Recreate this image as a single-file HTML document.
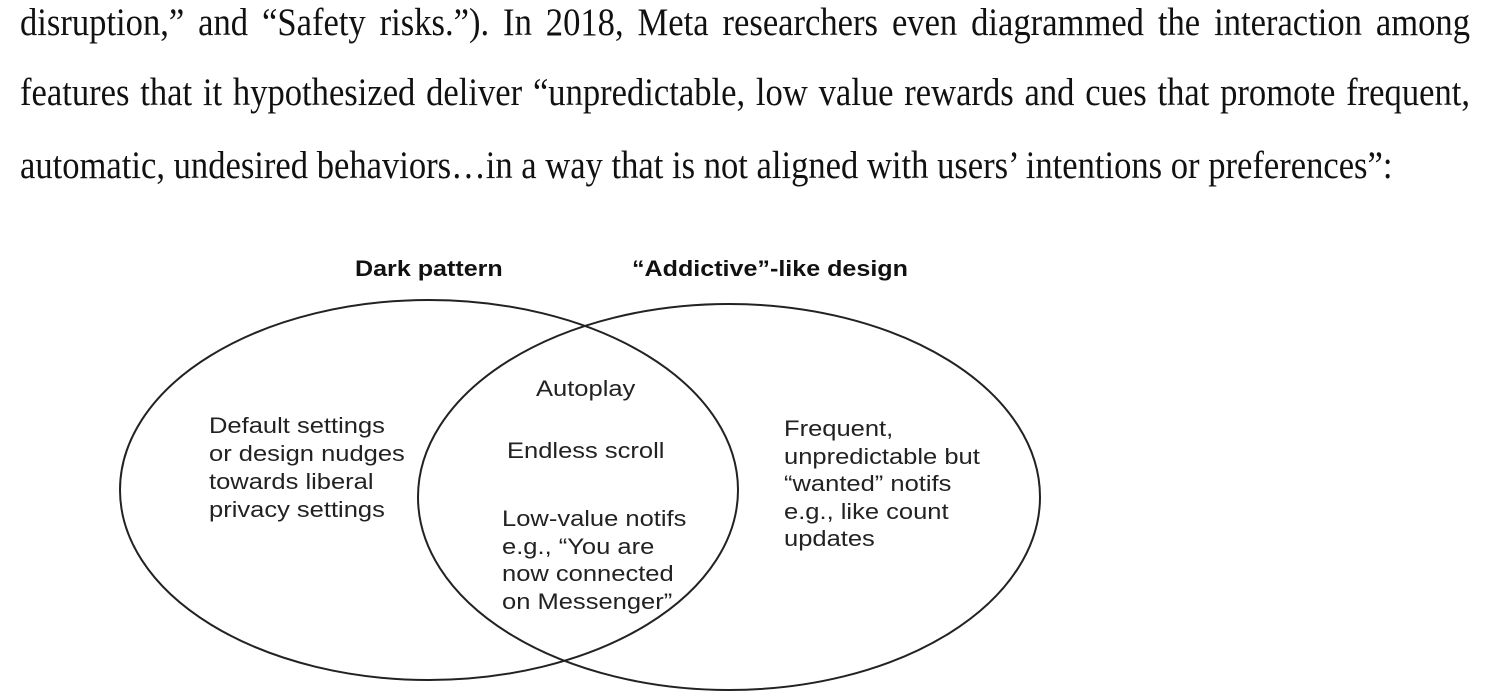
<!DOCTYPE html>
<html><head><style>
body{margin:0;width:1490px;height:698px;background:#fff;overflow:hidden;position:relative;}
.p{position:absolute;left:20px;width:1450px;font-family:"Liberation Serif",serif;font-size:34.6px;line-height:34px;color:#111;white-space:nowrap;transform:scaleY(1.12);transform-origin:0 28px;}
.j{text-align:justify;text-align-last:justify;}
.t{position:absolute;font-family:"Liberation Sans",sans-serif;font-size:22px;color:#222;line-height:28px;white-space:nowrap;transform:scaleX(1.16);transform-origin:0 0;}
.b{font-weight:bold;font-size:22px;color:#111;transform:scaleX(1.14);}
</style></head><body>
<div class="p j" style="top:7px">disruption,” and “Safety risks.”). In 2018, Meta researchers even diagrammed the interaction among</div>
<div class="p j" style="top:77px">features that it hypothesized deliver “unpredictable, low value rewards and cues that promote frequent,</div>
<div class="p" style="top:150px">automatic, undesired behaviors…in a way that is not aligned with users’ intentions or preferences”:</div>
<svg style="position:absolute;left:0;top:0" width="1490" height="698">
<ellipse cx="429" cy="490" rx="309" ry="190" fill="none" stroke="#222" stroke-width="2"/>
<ellipse cx="729" cy="497" rx="311" ry="193" fill="none" stroke="#222" stroke-width="2"/>
</svg>
<div class="t b" style="left:355px;top:255px">Dark pattern</div>
<div class="t b" style="left:632px;top:255px">“Addictive”-like design</div>
<div class="t" style="left:209px;top:412px">Default settings<br>or design nudges<br>towards liberal<br>privacy settings</div>
<div class="t" style="left:536px;top:375px">Autoplay</div>
<div class="t" style="left:507px;top:437px">Endless scroll</div>
<div class="t" style="left:502px;top:505px;line-height:27.5px">Low-value notifs<br>e.g., “You are<br>now connected<br>on Messenger”</div>
<div class="t" style="left:784px;top:415px;line-height:27.5px">Frequent,<br>unpredictable but<br>“wanted” notifs<br>e.g., like count<br>updates</div>
</body></html>
